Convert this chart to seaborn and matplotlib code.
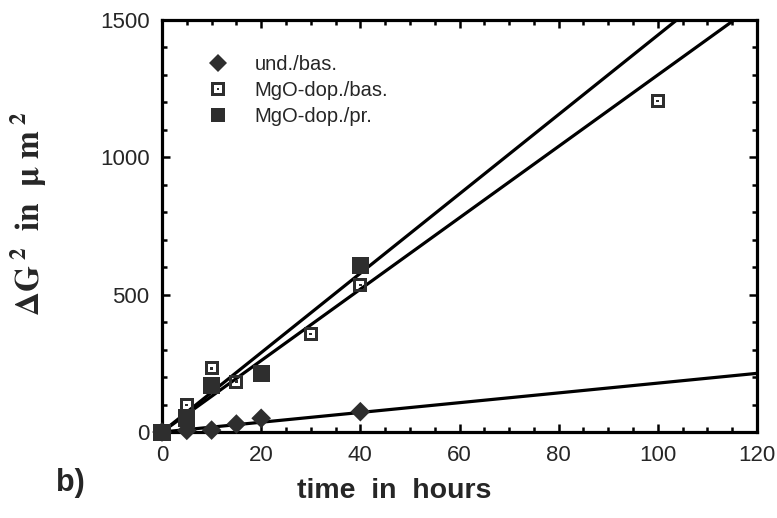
import numpy as np
import pandas as pd
import matplotlib
matplotlib.use("Agg")
import matplotlib.pyplot as plt
from matplotlib.path import Path
from matplotlib.ticker import MultipleLocator
from matplotlib.lines import Line2D
import seaborn as sns

# measured points (time in hours, delta G^2 in um^2)
t_und = [0, 5, 10, 15, 20, 40]
g_und = [0, 6, 7, 29, 50, 74]

t_bas = [0, 5, 10, 15, 30, 40, 100]
g_bas = [0, 98, 232, 183, 357, 535, 1205]

t_pr = [0, 5, 10, 20, 40]
g_pr = [0, 51, 171, 214, 608]

series_names = ["und./bas.", "MgO-dop./bas.", "MgO-dop./pr."]

# fitted straight lines (slope, intercept)
fit_slope = [1.78, 13.0, 14.45]
fit_intercept = [0.0, 0.0, 0.0]

x_ticks = [0, 20, 40, 60, 80, 100, 120]
y_ticks = [0, 500, 1000, 1500]

sns.set_theme(style="ticks")
plt.rcParams["font.family"] = ["Liberation Sans", "DejaVu Sans"]
plt.rcParams["mathtext.fontset"] = "stix"
plt.rcParams["mathtext.default"] = "bf"

# square with a white hole and a dot in the middle
def open_square_path():
    def sq(h, ccw=True):
        pts = [(-h, -h), (h, -h), (h, h), (-h, h)]
        if not ccw:
            pts = pts[::-1]
        return pts + [pts[0]]
    verts = sq(1.0) + sq(0.58, False) + sq(0.2)
    codes = ([Path.MOVETO] + [Path.LINETO] * 3 + [Path.CLOSEPOLY]) * 3
    return Path(verts, codes)

open_sq = open_square_path()
dark = "#2e2e2e"

df = pd.concat([
    pd.DataFrame({"t": t_und, "g": g_und, "serie": series_names[0]}),
    pd.DataFrame({"t": t_bas, "g": g_bas, "serie": series_names[1]}),
    pd.DataFrame({"t": t_pr, "g": g_pr, "serie": series_names[2]}),
])

fig = plt.figure(figsize=(7.77, 5.18), dpi=100)
ax = fig.add_axes([0.2085, 0.166, 0.7658, 0.7954])

# fit lines
x_line = np.array([0, 120])
for k in range(3):
    sns.lineplot(x=x_line, y=fit_slope[k] * x_line + fit_intercept[k],
                 color="black", linewidth=2.3, ax=ax, zorder=2)

marker_map = {series_names[0]: "D", series_names[1]: open_sq, series_names[2]: "s"}
size_map = {series_names[0]: 100, series_names[1]: 100, series_names[2]: 150}
for name in series_names:
    sub = df[df["serie"] == name]
    sns.scatterplot(data=sub, x="t", y="g", marker=marker_map[name],
                    s=size_map[name], color=dark, edgecolor="none",
                    ax=ax, zorder=3, clip_on=False, legend=False)

ax.set_xlim(0, 120)
ax.set_ylim(0, 1500)
ax.set_xticks(x_ticks)
ax.set_yticks(y_ticks)
ax.xaxis.set_minor_locator(MultipleLocator(5))
ax.yaxis.set_minor_locator(MultipleLocator(100))
ax.tick_params(which="both", direction="in", top=True, right=True,
               width=1.8, color="black")
ax.tick_params(which="major", length=6, labelsize=16, pad=9)
ax.tick_params(which="minor", length=3.5)
for sp in ax.spines.values():
    sp.set_linewidth(2.3)
    sp.set_color("black")

ax.set_xlabel("time  in  hours", fontsize=20.5, fontweight="bold")
ax.xaxis.set_label_coords(0.39, -0.112)
ax.set_ylabel(r"$\Delta G^{\ 2}\ \ in\ \ \mu\ m^{\ 2}$", fontsize=24)
ax.yaxis.set_label_coords(-0.19, 0.53)

fig.text(0.09, 0.067, "b)", fontsize=22, fontweight="bold", ha="center", va="center")

handles = [
    Line2D([], [], linestyle="none", marker="D", markersize=9, color=dark, markeredgewidth=0),
    Line2D([], [], linestyle="none", marker=open_sq, markersize=10, color=dark, markeredgewidth=0),
    Line2D([], [], linestyle="none", marker="s", markersize=10, color=dark, markeredgewidth=0),
]
ax.legend(handles, series_names, loc="upper left", bbox_to_anchor=(0.047, 0.935),
          frameon=False, fontsize=14.5, handletextpad=0.8, labelspacing=0.35,
          borderaxespad=0)

fig.savefig("out.png", dpi=100)
